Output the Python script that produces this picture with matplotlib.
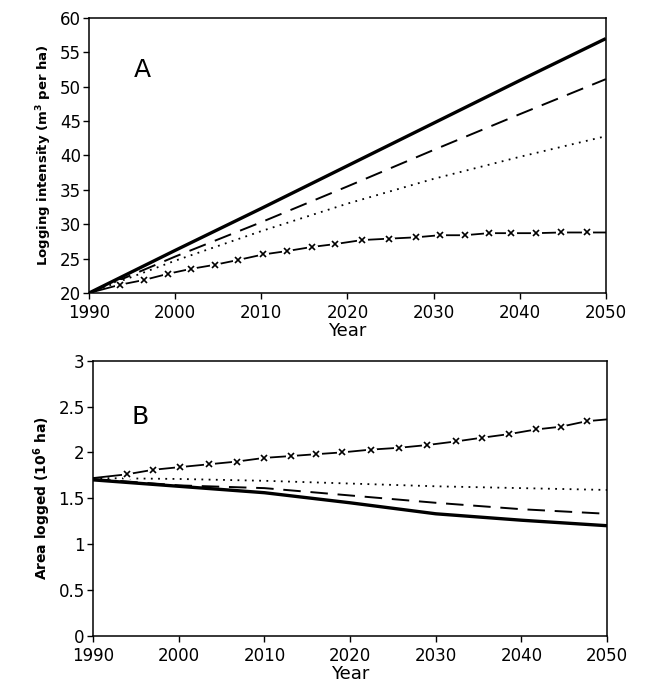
import numpy as np
import matplotlib
matplotlib.use('Agg')
import matplotlib.pyplot as plt

plt.rcParams.update({'font.family': 'DejaVu Sans', 'font.size': 11})

# panel A: logging intensity (m3 per ha)
years = [1990, 2000, 2010, 2020, 2030, 2040, 2050]
int_solid = [20, 26.2, 32.3, 38.5, 44.7, 50.9, 57.0]
int_dashed = [20, 25.3, 30.3, 35.5, 40.8, 46.0, 51.1]
int_dotted = [20, 24.7, 29.0, 33.0, 36.6, 39.8, 42.8]
x_years_a = [1990, 1993.6, 1996.4, 1999.2, 2001.8, 2004.6, 2007.3, 2010.2, 2013, 2015.9,
             2018.5, 2021.7, 2024.8, 2028, 2030.7, 2033.6, 2036.4, 2039, 2041.9, 2044.8,
             2047.8, 2050]
int_cross = [20, 21.2, 21.9, 22.8, 23.5, 24.1, 24.8, 25.6, 26.1, 26.7,
             27.1, 27.7, 27.9, 28.1, 28.4, 28.4, 28.7, 28.7, 28.7, 28.8,
             28.8, 28.8]

# panel B: area logged (10^6 ha)
area_solid = [1.70, 1.63, 1.56, 1.45, 1.33, 1.26, 1.20]
area_dashed = [1.71, 1.64, 1.61, 1.53, 1.45, 1.38, 1.33]
area_dotted = [1.72, 1.71, 1.69, 1.66, 1.63, 1.61, 1.59]
x_years_b = [1990, 1993.9, 1997, 2000.2, 2003.5, 2006.8, 2010, 2013.1, 2016, 2019.1,
             2022.4, 2025.7, 2029, 2032.4, 2035.4, 2038.6, 2041.7, 2044.6, 2047.6, 2050]
area_cross = [1.72, 1.76, 1.81, 1.84, 1.87, 1.90, 1.94, 1.96, 1.98, 2.00,
              2.03, 2.05, 2.08, 2.12, 2.16, 2.20, 2.25, 2.28, 2.34, 2.36]

fig = plt.figure(figsize=(6.65, 6.91), dpi=100)
axA = fig.add_axes([0.134, 0.576, 0.777, 0.398])
axB = fig.add_axes([0.140, 0.080, 0.773, 0.398])


def draw(ax, solid, dashed, dotted, xx, cross):
    ax.plot(years, solid, color='black', lw=2.4, solid_capstyle='butt')
    ax.plot(years, dashed, color='black', lw=1.4, dashes=(9, 5))
    ax.plot(years, dotted, color='black', lw=1.3, dashes=(1, 3))
    ax.plot(xx, cross, color='black', lw=1.3)
    # white gaps around the crosses
    ax.plot(xx[1:-1], cross[1:-1], 'o', ms=7, color='white', zorder=3)
    ax.plot(xx[1:-1], cross[1:-1], 'x', ms=4.5, mew=1.2, color='black', zorder=4)
    ax.set_xlim(1990, 2050)
    ax.set_xticks([1990, 2000, 2010, 2020, 2030, 2040, 2050])
    ax.tick_params(direction='out', length=4, width=1, labelsize=12, pad=2)
    ax.tick_params(axis='x', pad=4)
    for s in ax.spines.values():
        s.set_linewidth(1.1)
    ax.set_xlabel('Year', fontsize=13, labelpad=0)


draw(axA, int_solid, int_dashed, int_dotted, x_years_a, int_cross)
axA.set_ylim(20, 60)
axA.set_yticks(np.arange(20, 61, 5))
axA.set_ylabel('Logging intensity (m$^\\mathbf{3}$ per ha)', fontsize=9.5,
               fontweight='bold')
axA.text(0.103, 0.81, 'A', transform=axA.transAxes, fontsize=18, va='center',
         ha='center')

draw(axB, area_solid, area_dashed, area_dotted, x_years_b, area_cross)
axB.set_ylim(0, 3)
axB.set_yticks([0, 0.5, 1, 1.5, 2, 2.5, 3])
axB.set_yticklabels(['0', '0.5', '1', '1.5', '2', '2.5', '3'])
axB.set_ylabel('Area logged (10$^\\mathbf{6}$ ha)', fontsize=10,
               fontweight='bold')
axB.text(0.091, 0.796, 'B', transform=axB.transAxes, fontsize=18, va='center',
         ha='center')

fig.savefig('out.png', dpi=100)
